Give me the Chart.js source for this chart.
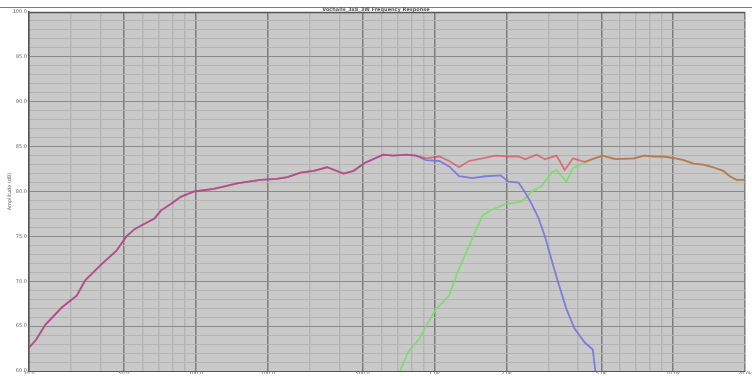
<!DOCTYPE html>
<html>
<head>
<meta charset="utf-8">
<script src="https://cdn.jsdelivr.net/npm/chart.js@4/dist/chart.umd.min.js"></script>
<style>
html,body{margin:0;padding:0;background:#fff;}
#wrap{width:752px;height:376px;position:relative;}
</style>
</head>
<body>
<div id="wrap"><canvas id="c" width="752" height="376"></canvas></div>
<script>
// ---- data ----
const chartTitle = "Vochalls_3x8_3W Frequency Response";
const yAxisTitle = "Amplitude (dB)";

// combined response (red)
const sumFreq = [20,21.3,23.5,27.5,31.7,34.4,40.3,46.5,51.2,55.4,61,67.1,71.5,78.6,86.5,98.4,119,149,186,218,242,275,312,355,416,458,512,554,610,671,762,838,922,1048,1152,1268,1395,1586,1801,2044,2249,2398,2682,2902,3246,3514,3804,4255,4681,5067,5667,6861,7549,8305,9136,10218,11060,12166,13386,14725,16199,17282,18406,20000];
const sumDb = [62.6,63.4,65.2,67.1,68.4,70.1,71.9,73.4,75.0,75.8,76.4,77.0,77.9,78.6,79.4,80.0,80.3,80.9,81.3,81.4,81.6,82.1,82.3,82.7,82.0,82.3,83.2,83.6,84.1,84.0,84.1,84.0,83.7,83.9,83.4,82.7,83.4,83.7,84.0,83.9,83.9,83.6,84.1,83.6,84.0,82.4,83.7,83.3,83.7,84.0,83.6,83.7,84.0,83.9,83.9,83.7,83.5,83.1,83.0,82.7,82.3,81.7,81.3,81.3];

// woofer (blue)
const wooferFreq = [20,21.3,23.5,27.5,31.7,34.4,40.3,46.5,51.2,55.4,61,67.1,71.5,78.6,86.5,98.4,119,149,186,218,242,275,312,355,416,458,512,554,610,671,762,838,922,1048,1152,1268,1441,1637,1889,2044,2249,2398,2556,2722,2902,3094,3296,3572,3866,4255,4604,4711,4816];
const wooferDb = [62.6,63.4,65.2,67.1,68.4,70.1,71.9,73.4,75.0,75.8,76.4,77.0,77.9,78.6,79.4,80.0,80.3,80.9,81.3,81.4,81.6,82.1,82.3,82.7,82.0,82.3,83.2,83.6,84.1,84.0,84.1,84.0,83.5,83.4,82.8,81.7,81.5,81.7,81.8,81.1,81.0,79.9,78.6,77.1,75.0,72.4,69.9,66.9,64.7,63.2,62.4,60.2,58.0];

// tweeter (green)
const tweeterFreq = [679,715,775,865,922,1015,1152,1249,1395,1586,1744,1981,2324,2556,2812,3094,3246,3572,3804,4255,4681,5150,5848,6861,7549,8305,9136,10218,11060,12166,13386,14725,16199,17282,18406,20000];
const tweeterDb = [58.0,59.9,62.1,63.6,65.0,66.9,68.4,71.0,73.9,77.3,78.0,78.6,78.9,80.0,80.6,82.1,82.4,81.1,82.6,83.2,83.7,84.0,83.6,83.7,84.0,83.9,83.9,83.7,83.5,83.1,83.0,82.7,82.3,81.7,81.3,81.3];

// axis ticks
const freqGridValues = [20,30,40,50,60,70,80,90,100,200,300,400,500,600,700,800,900,1000,2000,3000,4000,5000,6000,7000,8000,9000,10000,20000];
const majorFreqs = [20,50,100,200,500,1000,2000,5000,10000,20000];
const freqTickLabels = ["20.0","50.0","100.0","200.0","500.0","1.0k","2.0k","5.0k","10.0k","20.0k"];
const dbMin = 60, dbMax = 100, dbMajorStep = 5;

// ---- build chart ----
const toPts = (xs, ys) => xs.map((x, i) => ({x: x, y: ys[i]}));

const bgPlugin = {
  id: 'bg',
  beforeDraw(chart) {
    const {ctx, chartArea: a} = chart;
    ctx.save();
    ctx.fillStyle = '#ffffff';
    ctx.fillRect(0, 0, chart.width, chart.height);
    ctx.fillStyle = '#c9c9c9';
    ctx.fillRect(a.left, a.top, a.right - a.left, a.bottom - a.top);
    ctx.strokeStyle = '#7a7a7a';
    ctx.lineWidth = 1;
    ctx.beginPath();
    ctx.moveTo(0, 7.5);
    ctx.lineTo(chart.width, 7.5);
    ctx.stroke();
    ctx.restore();
  },
  beforeDatasetsDraw(chart) {
    const {ctx, chartArea: a} = chart;
    ctx.save();
    ctx.strokeStyle = '#555';
    ctx.lineWidth = 1.5;
    ctx.beginPath();
    ctx.moveTo(a.left, a.top + 0.5);
    ctx.lineTo(a.right, a.top + 0.5);
    ctx.stroke();
    ctx.restore();
  }
};

new Chart(document.getElementById('c'), {
  type: 'line',
  data: {
    datasets: [
      {label: 'Sum', data: toPts(sumFreq, sumDb), borderColor: 'rgba(232,40,55,0.55)', borderWidth: 1.8},
      {label: 'Woofer', data: toPts(wooferFreq, wooferDb), borderColor: 'rgba(115,110,225,0.85)', borderWidth: 1.8},
      {label: 'Tweeter', data: toPts(tweeterFreq, tweeterDb), borderColor: 'rgba(120,222,105,0.9)', borderWidth: 1.8}
    ]
  },
  options: {
    responsive: false,
    animation: false,
    layout: {padding: {left: 0, right: 0, top: 0, bottom: 0}},
    elements: {point: {radius: 0}, line: {tension: 0}},
    plugins: {
      legend: {display: false},
      tooltip: {enabled: false},
      title: {
        display: true,
        text: chartTitle,
        color: '#555',
        font: {family: 'DejaVu Sans', size: 5, lineHeight: 1},
        padding: {top: 7, bottom: 0}
      }
    },
    scales: {
      x: {
        type: 'logarithmic',
        min: 20,
        max: 20000,
        afterBuildTicks: (s) => { s.ticks = freqGridValues.map(v => ({value: v})); },
        afterFit: (s) => { s.height = 3; },
        ticks: {
          autoSkip: false,
          maxRotation: 0,
          padding: 0,
          color: '#666',
          font: {family: 'DejaVu Sans', size: 5},
          callback: (v) => { const i = majorFreqs.indexOf(v); return i >= 0 ? freqTickLabels[i] : ''; }
        },
        grid: {
          drawTicks: false,
          color: (c) => majorFreqs.includes(c.tick && c.tick.value) ? '#7c7c7c' : '#b5b5b5',
          lineWidth: 1.5
        },
        border: {color: '#555', width: 1}
      },
      y: {
        type: 'linear',
        min: dbMin,
        max: dbMax,
        afterFit: (s) => { s.width = 29; },
        ticks: {
          stepSize: 1,
          autoSkip: false,
          padding: 2,
          color: '#666',
          font: {family: 'DejaVu Sans', size: 5},
          callback: (v) => (v % dbMajorStep === 0 ? v.toFixed(1) : '')
        },
        grid: {
          drawTicks: false,
          color: (c) => (c.tick && c.tick.value % dbMajorStep === 0) ? '#8a8a8a' : '#b4b4b4',
          lineWidth: 1
        },
        border: {color: '#555', width: 1.5},
        title: {
          display: true,
          text: yAxisTitle,
          color: '#666',
          font: {family: 'DejaVu Sans', size: 5},
          padding: {top: 7, bottom: 0}
        }
      }
    }
  },
  plugins: [bgPlugin]
});
</script>
</body>
</html>
